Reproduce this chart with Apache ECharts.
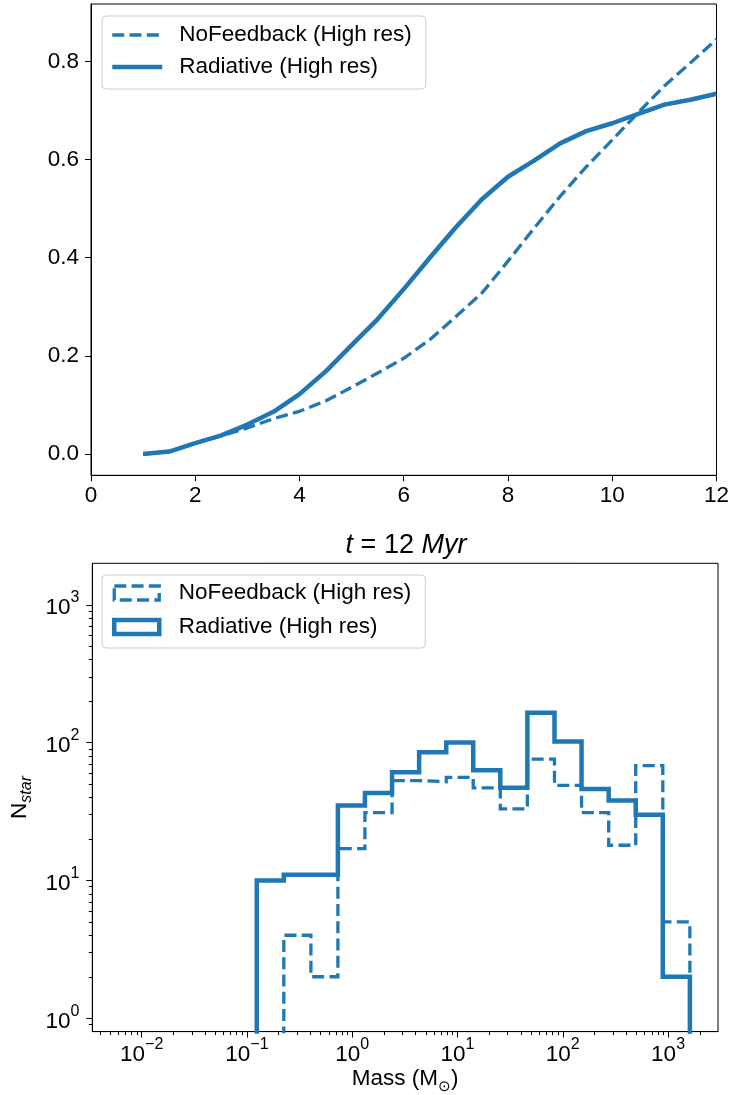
<!DOCTYPE html>
<html><head><meta charset="utf-8">
<script src="https://cdn.jsdelivr.net/npm/echarts@6/dist/echarts.min.js"></script>
<style>html,body{margin:0;padding:0;background:#fff}#c{width:732px;height:1095px}</style>
</head><body><div id="c"></div>
<script>
// ---------- data ----------
const SERIES_NAMES = ['NoFeedback (High res)', 'Radiative (High res)'];
const TIMES = [1, 1.5, 2, 2.5, 3, 3.5, 4, 4.5, 5, 5.5, 6, 6.5, 7, 7.5, 8, 8.5, 9, 9.5, 10, 10.5, 11, 11.5, 12];
const NOFB_FRACTION = [0.0, 0.005, 0.022, 0.037, 0.053, 0.072, 0.087, 0.108, 0.136, 0.165, 0.195, 0.233, 0.280, 0.328, 0.393, 0.460, 0.525, 0.585, 0.640, 0.696, 0.750, 0.797, 0.845];
const RAD_FRACTION  = [0.0, 0.005, 0.022, 0.038, 0.060, 0.086, 0.122, 0.168, 0.222, 0.275, 0.336, 0.400, 0.462, 0.519, 0.565, 0.598, 0.633, 0.658, 0.674, 0.693, 0.712, 0.722, 0.734];
const MASS_BIN_EDGES = [0.124, 0.224, 0.405, 0.731, 1.32, 2.39, 4.32, 7.82, 14.1, 25.5, 46.1, 83.4, 150.7, 272.9, 493, 891, 1611];
const NOFB_COUNTS = [0, 4, 2, 17, 31, 53, 52, 56, 47, 33, 76, 49, 31, 18, 68, 5];
const RAD_COUNTS  = [10, 11, 11, 35, 43, 61, 85, 100, 63, 47, 165, 102, 46, 38, 30, 2];
const TOP_X_TICKS = [0, 2, 4, 6, 8, 10, 12];
const TOP_Y_TICKS = [0, 0.2, 0.4, 0.6, 0.8];
const MASS_TICK_EXPONENTS = [-2, -1, 0, 1, 2, 3];
const COUNT_TICK_EXPONENTS = [0, 1, 2, 3];
const TITLE_TEXT = '{i|t} = 12 {i|Myr}';

// ---------- style / layout ----------
const BLUE = '#1f77b4';
const FONT = 'Liberation Sans';
const FS = 22.5;
const MASS_RANGE = [0.0034, 2980];
const COUNT_RANGE = [0.8, 2000];
const FRAC_RANGE = [-0.0434, 0.917];
const BASELINE = 0.3; // below the visible log range (histogram outline foot)

function stepOutline(edges, counts, base) {
  const pts = [];
  let i0 = 0; while (i0 < counts.length && counts[i0] === 0) i0++;
  pts.push([edges[i0], base]);
  for (let i = i0; i < counts.length; i++) {
    const c = counts[i] > 0 ? counts[i] : base;
    pts.push([edges[i], c]); pts.push([edges[i + 1], c]);
  }
  pts.push([edges[counts.length], base]);
  return pts;
}
function minorLogs(lo, hi) {
  const out = [];
  for (let k = Math.floor(lo) - 1; k <= Math.ceil(hi); k++)
    for (let m = 2; m <= 9; m++) { const v = k + Math.log10(m); if (v > lo + 1e-9 && v < hi - 1e-9) out.push(v); }
  return out;
}
const L = Math.log10;
const xLo = L(MASS_RANGE[0]), xHi = L(MASS_RANGE[1]);
const yLo = L(COUNT_RANGE[0]), yHi = L(COUNT_RANGE[1]);
const powFmt = v => '{b|10}{s|' + (v < 0 ? '\u2212' + Math.abs(v) : String(v)) + '}';
const supRich = {
  b: { fontSize: FS, lineHeight: 30, fontFamily: FONT, color: '#000', verticalAlign: 'bottom' },
  s: { fontSize: 16, lineHeight: 16, fontFamily: FONT, color: '#000', verticalAlign: 'top' }
};
const axLine = { show: true, onZero: false, lineStyle: { color: '#000', width: 1 } };
const noLine = { show: false, onZero: false };
const hidden = { show: false };

const option = {
  animation: false,
  backgroundColor: '#fff',
  textStyle: { fontFamily: FONT, color: '#000' },
  title: {
    text: TITLE_TEXT, left: 406, top: 532, textAlign: 'center', padding: 0,
    textStyle: { fontSize: 27, fontWeight: 'normal', color: '#000', fontFamily: FONT,
      rich: { i: { fontSize: 27, fontStyle: 'italic', fontFamily: FONT, color: '#000' } } }
  },
  grid: [
    { left: 91, width: 627, top: 4, height: 471.3, show: true, borderColor: '#000', borderWidth: 1, backgroundColor: 'transparent' },
    { left: 91, width: 627, top: 563.3, height: 471.7, show: true, borderColor: '#000', borderWidth: 1, backgroundColor: 'transparent' }
  ],
  legend: [
    {
      orient: 'vertical', left: 102, top: 16, padding: [7, 14, 10, 8], itemWidth: 50, itemHeight: 14, itemGap: 8,
      backgroundColor: 'rgba(255,255,255,0.8)', borderColor: '#cccccc', borderWidth: 1, borderRadius: 4,
      selectedMode: false,
      textStyle: { fontSize: FS, lineHeight: 24, color: '#000', fontFamily: FONT, padding: [0, 0, 0, 12] },
      data: [
        { name: SERIES_NAMES[0], itemStyle: { opacity: 0 }, lineStyle: { width: 3.3, type: [12, 5.3], color: BLUE } },
        { name: SERIES_NAMES[1], itemStyle: { opacity: 0 }, lineStyle: { width: 4.5, color: BLUE } }
      ]
    },
    {
      orient: 'vertical', left: 102, top: 575, padding: [6, 14, 9, 10], itemWidth: 45, itemHeight: 14, itemGap: 10,
      backgroundColor: 'rgba(255,255,255,0.8)', borderColor: '#cccccc', borderWidth: 1, borderRadius: 4,
      selectedMode: false,
      textStyle: { fontSize: FS, lineHeight: 24, color: '#000', fontFamily: FONT, padding: [0, 0, 0, 14.5] },
      data: [
        { name: SERIES_NAMES[0], icon: 'rect', itemStyle: { color: 'rgba(0,0,0,0)', borderColor: BLUE, borderWidth: 3.3, borderType: [12, 5.3] } },
        { name: SERIES_NAMES[1], icon: 'rect', itemStyle: { color: 'rgba(0,0,0,0)', borderColor: BLUE, borderWidth: 4.5 } }
      ]
    }
  ],
  xAxis: [
    { gridIndex: 0, type: 'value', min: 0, max: 12, interval: 2, axisLine: axLine,
      axisTick: { length: 6, lineStyle: { color: '#000' } },
      axisLabel: { color: '#000', fontSize: FS, fontFamily: FONT, margin: 9 }, splitLine: hidden },
    { gridIndex: 1, type: 'log', min: MASS_RANGE[0], max: MASS_RANGE[1], show: false, axisLine: noLine, splitLine: hidden },
    { gridIndex: 1, type: 'value', position: 'bottom', offset: 0, min: xLo, max: xHi, axisLine: axLine,
      axisTick: { length: 6, customValues: MASS_TICK_EXPONENTS, lineStyle: { color: '#000' } },
      axisLabel: { customValues: MASS_TICK_EXPONENTS, formatter: powFmt, rich: supRich, margin: 5 },
      splitLine: hidden,
      name: '{t|Mass (M}{s|\u2299}{t|)}', nameLocation: 'middle', nameGap: 21,
      nameTextStyle: { rich: {
        t: { fontSize: FS, lineHeight: 30, fontFamily: FONT, color: '#000' },
        s: { fontSize: 15, lineHeight: 15, fontFamily: FONT, color: '#000', verticalAlign: 'bottom' } } } },
    { gridIndex: 1, type: 'value', position: 'bottom', offset: 0, min: xLo, max: xHi, axisLine: noLine,
      axisTick: { length: 3.5, customValues: minorLogs(xLo, xHi), lineStyle: { color: '#000' } },
      axisLabel: hidden, splitLine: hidden }
  ],
  yAxis: [
    { gridIndex: 0, type: 'value', min: FRAC_RANGE[0], max: FRAC_RANGE[1], axisLine: axLine,
      axisTick: { length: 6, customValues: TOP_Y_TICKS, lineStyle: { color: '#000' } },
      axisLabel: { customValues: TOP_Y_TICKS, formatter: v => v.toFixed(1), color: '#000', fontSize: FS, fontFamily: FONT, margin: 12 },
      splitLine: hidden },
    { gridIndex: 1, type: 'log', min: COUNT_RANGE[0], max: COUNT_RANGE[1], show: false, axisLine: noLine, splitLine: hidden },
    { gridIndex: 1, type: 'value', position: 'left', offset: 0, min: yLo, max: yHi, axisLine: axLine,
      axisTick: { length: 6, customValues: COUNT_TICK_EXPONENTS, lineStyle: { color: '#000' } },
      axisLabel: { customValues: COUNT_TICK_EXPONENTS, formatter: powFmt, rich: supRich, margin: 13 },
      splitLine: hidden,
      name: '{n|N}{s|star}', nameLocation: 'middle', nameGap: 56, nameRotate: 90,
      nameTextStyle: { rich: {
        n: { fontSize: FS, lineHeight: 30, fontFamily: FONT, color: '#000' },
        s: { fontSize: 16, lineHeight: 16, fontFamily: FONT, fontStyle: 'italic', color: '#000', verticalAlign: 'bottom' } } } },
    { gridIndex: 1, type: 'value', position: 'left', offset: 0, min: yLo, max: yHi, axisLine: noLine,
      axisTick: { length: 3.5, customValues: minorLogs(yLo, yHi), lineStyle: { color: '#000' } },
      axisLabel: hidden, splitLine: hidden }
  ],
  series: [
    { name: SERIES_NAMES[0], type: 'line', xAxisIndex: 0, yAxisIndex: 0, symbol: 'none', showSymbol: false,
      data: TIMES.map((t, i) => [t, NOFB_FRACTION[i]]), itemStyle: { color: BLUE },
      lineStyle: { color: BLUE, width: 3.3, type: [12, 5.3] } },
    { name: SERIES_NAMES[1], type: 'line', xAxisIndex: 0, yAxisIndex: 0, symbol: 'none', showSymbol: false,
      data: TIMES.map((t, i) => [t, RAD_FRACTION[i]]), itemStyle: { color: BLUE },
      lineStyle: { color: BLUE, width: 4.5, join: 'round' } },
    { name: SERIES_NAMES[0], type: 'line', xAxisIndex: 1, yAxisIndex: 1, symbol: 'none', showSymbol: false,
      data: stepOutline(MASS_BIN_EDGES, NOFB_COUNTS, BASELINE), itemStyle: { color: BLUE },
      lineStyle: { color: BLUE, width: 3.3, type: [12, 5.3], join: 'miter' } },
    { name: SERIES_NAMES[1], type: 'line', xAxisIndex: 1, yAxisIndex: 1, symbol: 'none', showSymbol: false,
      data: stepOutline(MASS_BIN_EDGES, RAD_COUNTS, BASELINE), itemStyle: { color: BLUE },
      lineStyle: { color: BLUE, width: 4.5, join: 'miter' } }
  ]
};
const chart = echarts.init(document.getElementById('c'), null, { renderer: 'canvas' });
chart.setOption(option);
</script>
</body></html>
